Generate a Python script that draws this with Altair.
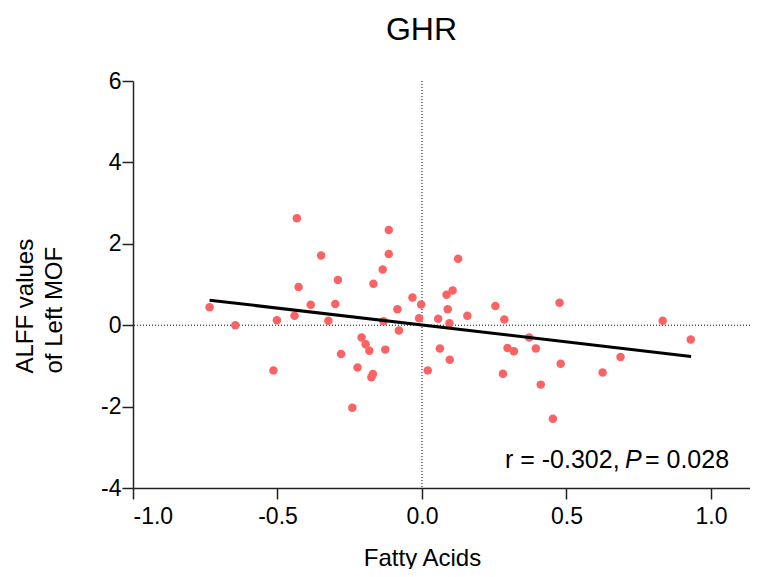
import altair as alt
import pandas as pd

# Scatter data (Fatty Acids vs ALFF values of Left MOF)
fatty_acids = [
    -0.735, -0.646, -0.514, -0.502, -0.433, -0.441, -0.427, -0.385, -0.349, -0.324,
    -0.300, -0.291, -0.280, -0.241, -0.223, -0.209, -0.195, -0.182, -0.170, -0.175,
    -0.168, -0.136, -0.115, -0.115, -0.133, -0.127, -0.085, -0.080, -0.033, -0.003,
    -0.010, 0.020, 0.056, 0.062, 0.096, 0.095, 0.089, 0.085, 0.106, 0.125,
    0.157, 0.254, 0.285, 0.280, 0.296, 0.318, 0.371, 0.394, 0.411, 0.453,
    0.476, 0.480, 0.625, 0.687, 0.833, 0.930,
]
alff = [
    0.44, 0.00, -1.11, 0.12, 2.63, 0.23, 0.94, 0.50, 1.71, 0.11,
    0.52, 1.11, -0.71, -2.03, -1.04, -0.30, -0.47, -0.63, -1.20, -1.28,
    1.02, 1.37, 2.34, 1.75, 0.10, -0.60, 0.39, -0.13, 0.68, 0.51,
    0.17, -1.11, 0.16, -0.57, -0.85, 0.05, 0.39, 0.75, 0.85, 1.63,
    0.23, 0.47, 0.14, -1.19, -0.56, -0.64, -0.30, -0.57, -1.46, -2.30,
    0.55, -0.95, -1.16, -0.78, 0.11, -0.35,
]

# Fitted regression line end points
fit_x = [-0.735, 0.931]
fit_y = [0.615, -0.770]

x_ticks = [-1.0, -0.5, 0.0, 0.5, 1.0]
y_ticks = [-4, -2, 0, 2, 4, 6]

title_text = "GHR"
x_title = "Fatty Acids"
y_title = ["ALFF values", "of Left MOF"]
stat_r = "r = -0.302, "
stat_p = "P"
stat_pval = "= 0.028"
stat_pos = {"x": 0.287, "y": -3.52}

FONT = "Liberation Sans"
X_DOMAIN = [-1.0, 1.135]
Y_DOMAIN = [-4, 6]

pts = pd.DataFrame({"x": fatty_acids, "y": alff})
fit = pd.DataFrame({"x": fit_x, "y": fit_y})
zero = pd.DataFrame({"v": [0]})
ann = pd.DataFrame({"x": [stat_pos["x"]], "y": [stat_pos["y"]]})

xscale = alt.Scale(domain=X_DOMAIN, nice=False, zero=False)
yscale = alt.Scale(domain=Y_DOMAIN, nice=False, zero=False)

xaxis = alt.Axis(
    values=x_ticks, title=x_title, tickSize=11, labelPadding=6,
    labelExpr="replace(format(datum.value, '.1f'), '\u2212', '-')",
    titleX=289, titleY=77, titleAlign="center", titleBaseline="alphabetic",
)
yaxis = alt.Axis(
    values=y_ticks, title=y_title, tickSize=11, labelPadding=1,
    labelExpr="replace(format(datum.value, 'd'), '\u2212', '-')",
    titleX=-101, titleY=292, titleAlign="left", titleBaseline="alphabetic",
    titleAngle=270, titleLineHeight=29,
)

points = alt.Chart(pts).mark_circle(size=72, color="#F96363", opacity=1).encode(
    x=alt.X("x:Q", scale=xscale, axis=xaxis),
    y=alt.Y("y:Q", scale=yscale, axis=yaxis),
)

hzero = alt.Chart(zero).mark_rule(color="black", strokeWidth=1, strokeDash=[1, 2]).encode(
    y=alt.Y("v:Q", scale=yscale)
)
vzero = alt.Chart(zero).mark_rule(color="black", strokeWidth=1, strokeDash=[1, 2]).encode(
    x=alt.X("v:Q", scale=xscale)
)

line = alt.Chart(fit).mark_line(color="black", strokeWidth=3).encode(
    x=alt.X("x:Q", scale=xscale), y=alt.Y("y:Q", scale=yscale)
)

t1 = alt.Chart(ann).mark_text(
    text=stat_r, align="left", baseline="alphabetic", font=FONT, fontSize=25, color="black"
).encode(x=alt.X("x:Q", scale=xscale), y=alt.Y("y:Q", scale=yscale))
t2 = alt.Chart(ann).mark_text(
    text=stat_p, align="left", baseline="alphabetic", font=FONT, fontSize=25,
    fontStyle="italic", color="black", dx=120
).encode(x=alt.X("x:Q", scale=xscale), y=alt.Y("y:Q", scale=yscale))
t3 = alt.Chart(ann).mark_text(
    text=stat_pval, align="left", baseline="alphabetic", font=FONT, fontSize=25,
    color="black", dx=140
).encode(x=alt.X("x:Q", scale=xscale), y=alt.Y("y:Q", scale=yscale))

chart = alt.layer(hzero, vzero, points, line, t1, t2, t3).properties(
    width=617, height=407,
    title=alt.TitleParams(title_text, font=FONT, fontSize=32, fontWeight="normal",
                          color="black", anchor="middle", offset=23, dx=-20),
    autosize=alt.AutoSizeParams(type="none"),
    padding={"left": 125, "top": 73, "right": 0, "bottom": 81},
).configure_view(stroke=None).configure_axis(
    grid=False, domainColor="#222", tickColor="#222", domainWidth=1.5, tickWidth=1.5,
    labelColor="black", labelFont=FONT, labelFontSize=23,
    titleColor="black", titleFont=FONT, titleFontSize=24, titleFontWeight="normal",
)

chart.save("out.html", embed_options={"renderer": "svg", "actions": False})
